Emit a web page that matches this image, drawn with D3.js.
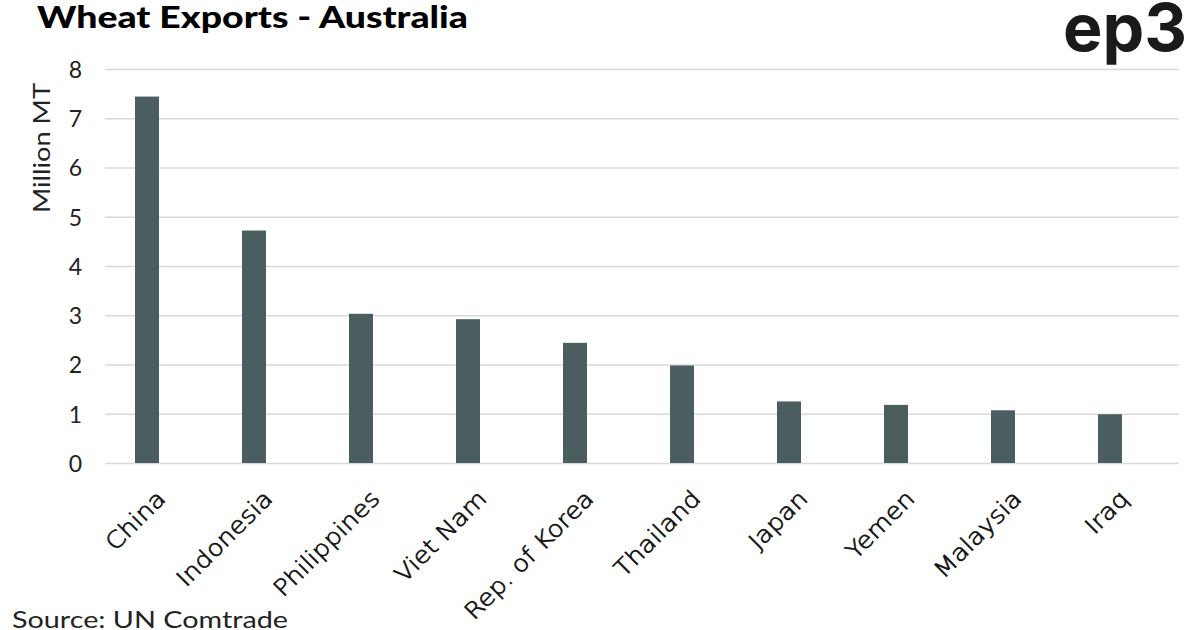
<!DOCTYPE html>
<html>
<head>
<meta charset="utf-8">
<script src="https://cdn.jsdelivr.net/npm/d3@7"></script>
<style>
  html, body { margin: 0; padding: 0; background: #fff; }
  svg { display: block; }
</style>
</head>
<body>
<svg id="chart" width="1199" height="630"></svg>
<script>
const categories = ["China", "Indonesia", "Philippines", "Viet Nam", "Rep. of Korea", "Thailand", "Japan", "Yemen", "Malaysia", "Iraq"];
const values = [7.44, 4.72, 3.03, 2.92, 2.44, 1.98, 1.25, 1.18, 1.07, 0.99];
const yTicks = [0, 1, 2, 3, 4, 5, 6, 7, 8];
const titleText = "Wheat Exports - Australia";
const yAxisTitle = "Million MT";
const sourceText = "Source: UN Comtrade";
const logoText = "ep3";

const svg = d3.select("#chart");
const gridLeft = 105, gridRight = 1179;
const plotTop = 69, plotBottom = 463;
const font = "Lato, 'Open Sans', sans-serif";

const x = d3.scaleBand().domain(categories).range([93.5, 1163.5]).paddingInner(0.776).paddingOuter(0.388);
const y = d3.scaleLinear().domain([0, 8]).range([plotBottom, plotTop]);

// gridlines + y tick labels
const yAxis = d3.axisLeft(y).tickValues(yTicks).tickSize(-(gridRight - gridLeft)).tickPadding(23).tickFormat(d3.format("d"));
const gy = svg.append("g").attr("transform", `translate(${gridLeft},0)`).call(yAxis);
gy.select(".domain").remove();
gy.selectAll(".tick line").attr("stroke", "#d9d9d9").attr("stroke-width", 1.5);
gy.selectAll(".tick text").attr("font-family", font).attr("font-size", 23).attr("fill", "#222")
  .attr("dy", "0.36em");

// bars
svg.append("g").selectAll("rect").data(values).join("rect")
  .attr("x", (d, i) => x(categories[i]))
  .attr("width", x.bandwidth())
  .attr("y", d => y(d))
  .attr("height", d => y(0) - y(d))
  .attr("fill", "#4a5d5f");

// x labels
const xAxis = d3.axisBottom(x).tickSize(0).tickPadding(0);
const gx = svg.append("g").attr("transform", `translate(0,${plotBottom})`).call(xAxis);
gx.select(".domain").remove();
gx.selectAll(".tick text")
  .attr("font-family", "'DejaVu Sans', sans-serif").attr("font-weight", 300).attr("font-size", 23)
  .attr("fill", "#111").attr("stroke", "#111").attr("stroke-width", 0.7)
  .attr("text-anchor", "end")
  .attr("dy", 0)
  .attr("transform", "translate(20,37) rotate(-45) scale(1.12,1)");

// title
svg.append("text").attr("x", 37).attr("y", 28)
  .attr("font-family", font).attr("font-weight", 900).attr("font-size", 31)
  .attr("fill", "#000").attr("textLength", 431).attr("lengthAdjust", "spacingAndGlyphs")
  .text(titleText);

// y axis title
svg.append("text").attr("transform", "translate(50,148) rotate(-90)")
  .attr("text-anchor", "middle")
  .attr("font-family", font).attr("font-size", 23).attr("fill", "#222")
  .attr("textLength", 130).attr("lengthAdjust", "spacingAndGlyphs")
  .text(yAxisTitle);

// source
svg.append("text").attr("x", 12).attr("y", 628)
  .attr("font-family", font).attr("font-size", 23).attr("fill", "#222")
  .attr("textLength", 276).attr("lengthAdjust", "spacingAndGlyphs")
  .text(sourceText);

// logo
svg.append("text").attr("x", 1063).attr("y", 51)
  .attr("font-family", "Inter, sans-serif").attr("font-weight", 700).attr("font-size", 66)
  .attr("fill", "#1a1a1a").attr("textLength", 124).attr("lengthAdjust", "spacingAndGlyphs")
  .text(logoText);
</script>
</body>
</html>
